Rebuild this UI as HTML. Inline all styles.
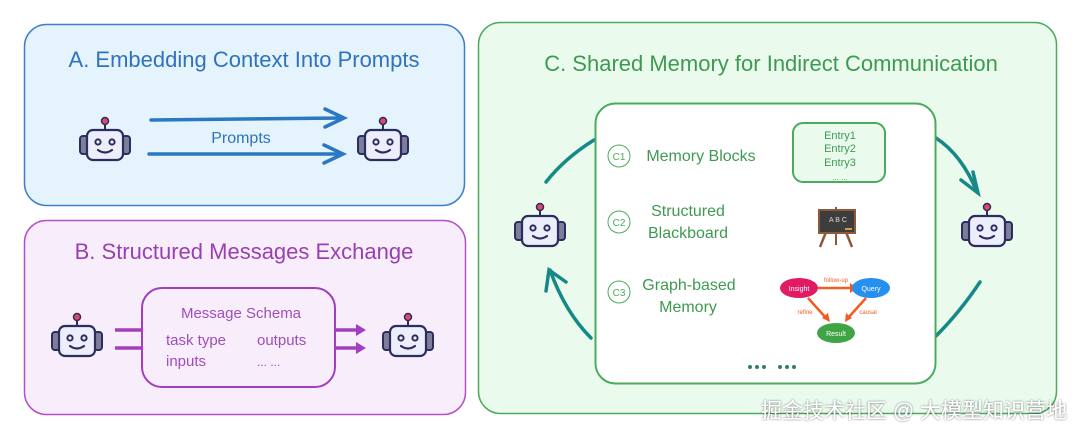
<!DOCTYPE html>
<html><head><meta charset="utf-8"><style>
body{margin:0;background:#fff;width:1080px;height:438px;overflow:hidden}
svg text{font-family:"Liberation Sans","Noto Sans CJK SC",sans-serif}
</style></head><body>
<svg width="1080" height="438" viewBox="0 0 1080 438" xmlns="http://www.w3.org/2000/svg">
<defs>
<g id="bot">
 <line x1="0" y1="-20" x2="0" y2="-12" stroke="#2b2d5e" stroke-width="2"/>
 <circle cx="0" cy="-21" r="3.5" fill="#e0476b" stroke="#2b2d5e" stroke-width="1.5"/>
 <rect x="-25" y="-6" width="8" height="18" rx="3" fill="#7d7f9a" stroke="#2b2d5e" stroke-width="2"/>
 <rect x="17" y="-6" width="8" height="18" rx="3" fill="#7d7f9a" stroke="#2b2d5e" stroke-width="2"/>
 <rect x="-18" y="-12" width="36" height="30" rx="6" fill="#eceefa" stroke="#2b2d5e" stroke-width="2.2"/>
 <circle cx="-7" cy="0" r="2.6" fill="none" stroke="#2b2d5e" stroke-width="2"/>
 <circle cx="7" cy="0" r="2.6" fill="none" stroke="#2b2d5e" stroke-width="2"/>
 <path d="M-7 8 Q0 13 7 8" fill="none" stroke="#2b2d5e" stroke-width="2.2" stroke-linecap="round"/>
</g>
<filter id="sh" x="-5%" y="-30%" width="110%" height="160%"><feDropShadow dx="0" dy="0" stdDeviation="1" flood-color="#000" flood-opacity="0.6"/></filter>
</defs>
<!-- A -->
<rect x="24.5" y="24.5" width="440" height="181" rx="22" fill="#e5f3fd" stroke="#3f7fc6" stroke-width="1.5"/>
<text x="244" y="67" font-size="22" fill="#2f73bd" text-anchor="middle">A. Embedding Context Into Prompts</text>
<use href="#bot" x="105" y="142"/>
<use href="#bot" x="383" y="142"/>
<g stroke="#2a78c4" stroke-width="3.5" fill="none" stroke-linecap="round">
<line x1="151" y1="120" x2="343" y2="118"/><polyline points="325,109 344,118 325,127"/>
<line x1="149" y1="154" x2="342" y2="154"/><polyline points="324,145 343,154 324,163"/>
</g>
<text x="241" y="143" font-size="16" fill="#2f73bd" text-anchor="middle">Prompts</text>
<!-- B -->
<rect x="24.5" y="220.5" width="441" height="194" rx="22" fill="#f8eefb" stroke="#b350c8" stroke-width="1.5"/>
<text x="244" y="259" font-size="22" fill="#9a3fb2" text-anchor="middle">B. Structured Messages Exchange</text>
<use href="#bot" x="77" y="338"/>
<use href="#bot" x="408" y="338"/>
<g stroke="#a23fbe" stroke-width="3.5" fill="none">
<line x1="115" y1="330" x2="142" y2="330"/><line x1="115" y1="348" x2="142" y2="348"/>
<line x1="336" y1="330" x2="360" y2="330"/><line x1="336" y1="348" x2="360" y2="348"/>
</g>
<polygon points="356,324 366,330 356,336" fill="#a23fbe"/>
<polygon points="356,342 366,348 356,354" fill="#a23fbe"/>
<rect x="142" y="288" width="193" height="99" rx="20" fill="#f8eefb" stroke="#a23fbe" stroke-width="2"/>
<text x="241" y="318" font-size="15" fill="#a04dbb" text-anchor="middle">Message Schema</text>
<text x="166" y="345" font-size="15" fill="#a04dbb">task type</text>
<text x="257" y="345" font-size="15" fill="#a04dbb">outputs</text>
<text x="166" y="366" font-size="15" fill="#a04dbb">inputs</text>
<text x="257" y="366" font-size="12" fill="#a04dbb">... ...</text>
<!-- C -->
<rect x="478.5" y="22.5" width="578" height="391" rx="22" fill="#eafbee" stroke="#4bab5c" stroke-width="1.5"/>
<text x="771" y="71" font-size="22" fill="#3e9a51" text-anchor="middle">C. Shared Memory for Indirect Communication</text>
<use href="#bot" x="540" y="228"/>
<use href="#bot" x="987" y="228"/>
<g stroke="#178888" stroke-width="3.5" fill="none" stroke-linecap="round">
<path d="M546 182 Q565 158 594 140"/>
<path d="M591 338 Q565 312 550 270"/><polyline points="546,291 549,270 566,282"/>
<path d="M936 138 Q962 155 977 192"/><polyline points="961,180 978,193 973,172"/>
<path d="M980 282 Q960 312 936 336"/>
</g>
<rect x="595.5" y="103.5" width="340" height="280" rx="20" fill="#fff" stroke="#4bab5c" stroke-width="2"/>
<g fill="none" stroke="#4bab5c" stroke-width="1"><circle cx="619" cy="156" r="11"/><circle cx="619" cy="222" r="11"/><circle cx="619" cy="292" r="11"/></g>
<g font-size="10" fill="#4bab5c" text-anchor="middle"><text x="619" y="160">C1</text><text x="619" y="226">C2</text><text x="619" y="296">C3</text></g>
<g font-size="16" fill="#3e9a51" text-anchor="middle">
<text x="701" y="161">Memory Blocks</text>
<text x="688" y="216">Structured</text><text x="688" y="238">Blackboard</text>
<text x="689" y="290">Graph-based</text><text x="688" y="312">Memory</text>
</g>
<rect x="793" y="123" width="92" height="59" rx="10" fill="#eafbee" stroke="#4bab5c" stroke-width="2"/>
<g font-size="11" fill="#3e9a51" text-anchor="middle"><text x="840" y="139">Entry1</text><text x="840" y="152">Entry2</text><text x="840" y="166">Entry3</text><text x="840" y="180" font-size="8">... ...</text></g>
<!-- blackboard -->
<g>
<line x1="826" y1="232" x2="820" y2="247" stroke="#8a5a3b" stroke-width="2.5"/>
<line x1="846" y1="232" x2="852" y2="247" stroke="#8a5a3b" stroke-width="2.5"/>
<line x1="836" y1="207" x2="836" y2="245" stroke="#8a5a3b" stroke-width="2"/>
<rect x="819" y="210" width="36" height="23" fill="#3d3d3d" stroke="#8a5a3b" stroke-width="2"/>
<text x="838" y="222" font-size="7" fill="#ddd" text-anchor="middle">A B C</text>
<rect x="845" y="228" width="7" height="2" fill="#e09a3c"/>
</g>
<!-- graph -->
<g stroke="#f25c23" stroke-width="2.5" fill="none">
<line x1="818" y1="288" x2="852" y2="288"/>
<line x1="808" y1="298" x2="826" y2="318"/>
<line x1="866" y1="298" x2="848" y2="318"/>
</g>
<polygon points="850,283 858,288 850,293" fill="#f25c23"/>
<polygon points="822,318 830,322 828,313" fill="#f25c23"/>
<polygon points="852,318 845,322 846,313" fill="#f25c23"/>
<ellipse cx="799" cy="288" rx="19" ry="10" fill="#e21a63"/>
<ellipse cx="871" cy="288" rx="19" ry="10" fill="#2590f0"/>
<ellipse cx="836" cy="333" rx="19" ry="10" fill="#3fa544"/>
<g font-size="7" text-anchor="middle"><text x="799" y="291" fill="#fff">Insight</text><text x="871" y="291" fill="#fff">Query</text><text x="836" y="336" fill="#fff">Result</text>
<text x="836" y="282" fill="#f25c23" font-size="6">follow-up</text><text x="805" y="314" fill="#f25c23" font-size="6">refine</text><text x="868" y="314" fill="#f25c23" font-size="6">causal</text></g>
<g fill="#2f7f6a"><circle cx="750" cy="367" r="2"/><circle cx="757" cy="367" r="2"/><circle cx="764" cy="367" r="2"/><circle cx="780" cy="367" r="2"/><circle cx="787" cy="367" r="2"/><circle cx="794" cy="367" r="2"/></g>
<!-- watermark -->
<text x="1067" y="418" font-size="21" fill="#fff" filter="url(#sh)" text-anchor="end">掘金技术社区 @ 大模型知识营地</text>
</svg>
</body></html>
